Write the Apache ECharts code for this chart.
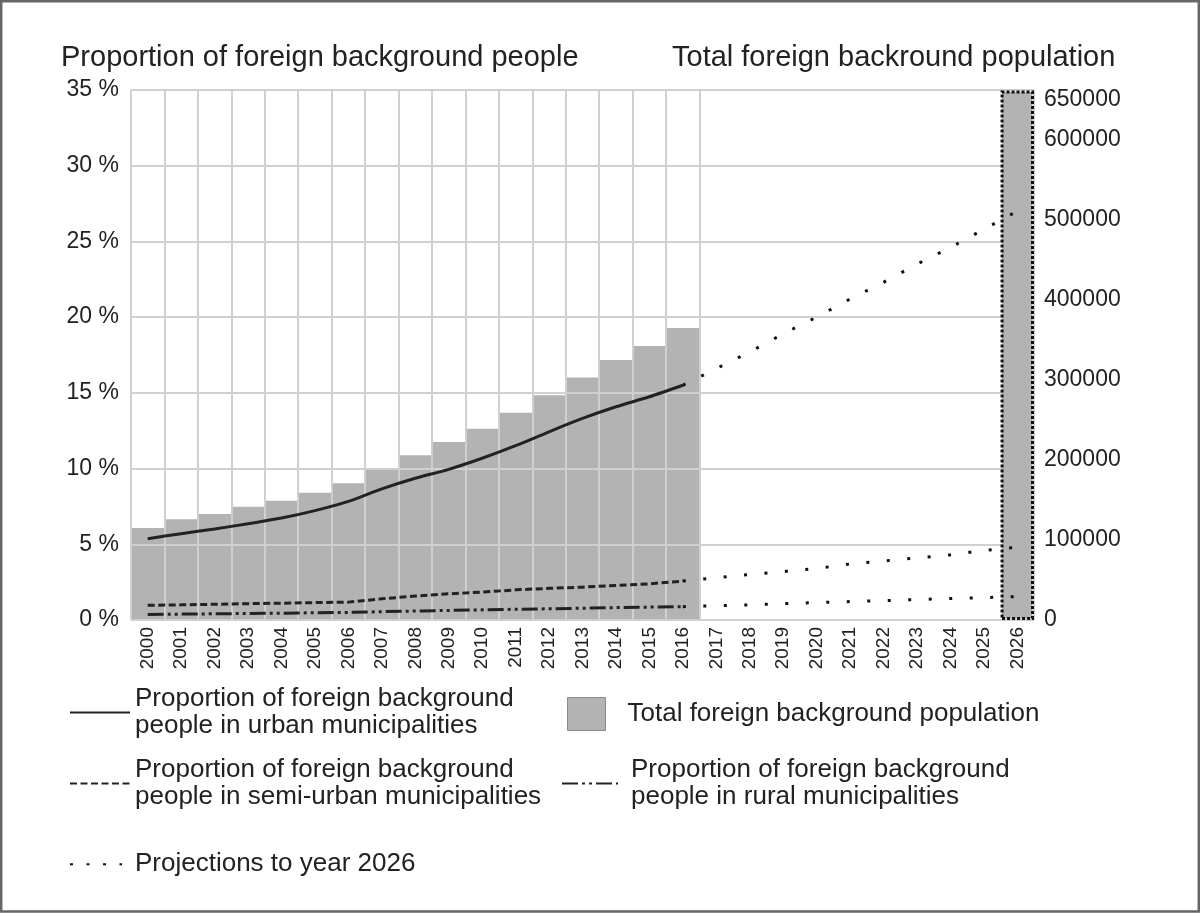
<!DOCTYPE html>
<html>
<head>
<meta charset="utf-8">
<script src="https://cdn.jsdelivr.net/npm/echarts@6/dist/echarts.min.js"></script>
<style>
  html, body { margin: 0; padding: 0; background: #fff; }
  #chart { width: 1200px; height: 913px; }
</style>
</head>
<body>
<div id="chart"></div>
<script>
// years on the category axis
var years = ['2000', '2001', '2002', '2003', '2004', '2005', '2006', '2007', '2008',
  '2009', '2010', '2011', '2012', '2013', '2014', '2015', '2016', '2017', '2018',
  '2019', '2020', '2021', '2022', '2023', '2024', '2025', '2026'];

// total foreign background population (right axis), 2000-2016
var totalPop = [115000, 126000, 132500, 141500, 149000, 159000, 171000, 188000, 206000,
  222500, 239000, 259000, 281000, 303000, 325000, 342500, 365000];
// projected total for 2026 (bar reaches the top of the plot)
var totalPop2026 = 662000;

// proportion (%) by municipality type, 2000-2016
var urban = [5.37, 5.70, 6.01, 6.36, 6.73, 7.22, 7.83, 8.66, 9.36, 9.95, 10.68, 11.51,
  12.43, 13.31, 14.08, 14.74, 15.5];
var semiUrban = [0.97, 1.0, 1.04, 1.08, 1.11, 1.15, 1.18, 1.40, 1.58, 1.73, 1.84, 1.99,
  2.09, 2.17, 2.28, 2.39, 2.57];
var rural = [0.37, 0.39, 0.41, 0.43, 0.45, 0.48, 0.50, 0.55, 0.59, 0.63, 0.67, 0.71,
  0.74, 0.78, 0.82, 0.85, 0.88];

// projections 2016-2026 (%)
var urbanProj = [15.5, 16.6, 17.7, 18.9, 20.0, 21.2, 22.3, 23.5, 24.6, 25.8, 27.0];
var semiUrbanProj = [2.57, 2.8, 3.0, 3.2, 3.4, 3.7, 3.9, 4.1, 4.3, 4.6, 4.8];
var ruralProj = [0.88, 0.95, 1.0, 1.08, 1.15, 1.22, 1.28, 1.35, 1.42, 1.48, 1.55];

// right axis tick labels
var popTicks = [0, 100000, 200000, 300000, 400000, 500000, 600000, 650000];

var chart = echarts.init(document.getElementById('chart'));

// pad the shorter arrays so they sit on the right years
function pad(arr, before, total) {
  var out = [];
  for (var i = 0; i < before; i++) out.push('-');
  out = out.concat(arr);
  while (out.length < total) out.push('-');
  return out;
}
var n = years.length;
var barHist = pad(totalPop, 0, n);
var bar2026 = pad([totalPop2026], n - 1, n);

var FONT = 'Liberation Sans';
var TXT = '#222';
var GRID = '#d0d0d0';
var splitName = function (name) { return name.replace('background ', 'background\n'); };
var legendText = { fontSize: 26, color: TXT, lineHeight: 26.5, fontFamily: FONT };
var lineLegend = function (name, left, top, w, extra, lineStyle) {
  var l = {
    data: [name], left: left, top: top, padding: 0,
    itemWidth: w, itemHeight: 14, formatter: splitName,
    itemStyle: { opacity: 0 },
    textStyle: Object.assign({}, legendText, extra || {})
  };
  if (lineStyle) l.lineStyle = lineStyle;
  return l;
};

var option = {
  backgroundColor: '#fff',
  animation: false,
  textStyle: { fontFamily: FONT },
  title: [
    { text: 'Proportion of foreign background people', left: 56, top: 38,
      textStyle: { fontFamily: FONT, fontSize: 29, fontWeight: 'normal', color: TXT } },
    { text: 'Total foreign backround population', left: 667, top: 38,
      textStyle: { fontFamily: FONT, fontSize: 29, fontWeight: 'normal', color: TXT } }
  ],
  grid: { left: 131, right: 166, top: 90, bottom: 293 },
  legend: [
    lineLegend('Proportion of foreign background people in urban municipalities', 69, 686, 60),
    {
      data: [{ name: 'Total foreign background population', icon: 'rect' }],
      left: 567, top: 697, padding: 0, itemWidth: 38, itemHeight: 33,
      itemStyle: { borderColor: '#8a8a8a', borderWidth: 1 },
      textStyle: Object.assign({}, legendText, { padding: [0, 0, 0, 17] })
    },
    lineLegend('Proportion of foreign background people in semi-urban municipalities', 69, 757, 60),
    lineLegend('Proportion of foreign background people in rural municipalities', 561, 757, 56,
      { padding: [0, 0, 0, 8] }),
    lineLegend('Projections to year 2026', 69, 851, 52, { padding: [0, 0, 0, 8] },
      { type: [3, 13.5] })
  ],
  xAxis: {
    type: 'category',
    data: years,
    z: 3,
    axisLine: { show: false },
    axisTick: { show: false },
    axisLabel: { rotate: 90, margin: 7, fontSize: 19, color: TXT, fontFamily: FONT, interval: 0 },
    splitLine: {
      show: true,
      interval: function (i) { return i <= 17; },
      lineStyle: { color: GRID, width: 2 }
    }
  },
  yAxis: [
    {
      type: 'value', min: 0, max: 35, interval: 5, z: 3,
      axisLine: { show: false }, axisTick: { show: false },
      axisLabel: { fontSize: 23, color: TXT, margin: 12, fontFamily: FONT,
        formatter: function (v) { return v + ' %'; } },
      splitLine: { show: true, lineStyle: { color: GRID, width: 2 } }
    },
    {
      type: 'value', min: 0, max: 662500,
      axisLine: { show: false }, axisTick: { show: false },
      axisLabel: { fontSize: 23, color: TXT, margin: 10, fontFamily: FONT,
        customValues: popTicks,
        formatter: function (v) { return String(v); } },
      splitLine: { show: false }
    }
  ],
  series: [
    {
      name: 'Total foreign background population', type: 'bar', yAxisIndex: 1,
      data: barHist, barCategoryGap: '0%', barGap: '-100%', z: 2,
      itemStyle: { color: '#b3b3b3' }
    },
    {
      name: 'Total foreign background population', type: 'bar', yAxisIndex: 1,
      data: bar2026, barCategoryGap: '0%', barGap: '-100%', z: 4,
      itemStyle: { color: '#b3b3b3', borderColor: '#111', borderWidth: 3, borderType: [3, 2] }
    },
    {
      name: 'Proportion of foreign background people in urban municipalities', type: 'line',
      data: urban, symbol: 'none', smooth: 0.3, z: 5,
      lineStyle: { color: '#222', width: 3 }, itemStyle: { color: '#222' }
    },
    {
      name: 'Proportion of foreign background people in semi-urban municipalities', type: 'line',
      data: semiUrban, symbol: 'none', z: 5,
      lineStyle: { color: '#222', width: 3, type: [7, 3.5] }, itemStyle: { color: '#222' }
    },
    {
      name: 'Proportion of foreign background people in rural municipalities', type: 'line',
      data: rural, symbol: 'none', z: 5,
      lineStyle: { color: '#222', width: 3, type: [16, 4, 3, 4, 3, 4] }, itemStyle: { color: '#222' }
    },
    {
      name: 'Projections to year 2026', type: 'line', data: pad(urbanProj, 16, n),
      symbol: 'none', z: 5,
      lineStyle: { color: '#111', width: 3, type: [3, 17.5] }, itemStyle: { color: '#111' }
    },
    {
      name: 'Projections to year 2026', type: 'line', data: pad(semiUrbanProj, 16, n),
      symbol: 'none', z: 5,
      lineStyle: { color: '#111', width: 3, type: [3, 17.5] }, itemStyle: { color: '#111' }
    },
    {
      name: 'Projections to year 2026', type: 'line', data: pad(ruralProj, 16, n),
      symbol: 'none', z: 5,
      lineStyle: { color: '#111', width: 3, type: [3, 17.5] }, itemStyle: { color: '#111' }
    }
  ],
  graphic: [
    { type: 'rect', silent: true, z: 100,
      shape: { x: 1.2, y: 1.2, width: 1197.6, height: 910.3 },
      style: { fill: null, stroke: '#666', lineWidth: 2.5 } }
  ]
};

chart.setOption(option);
</script>
</body>
</html>
